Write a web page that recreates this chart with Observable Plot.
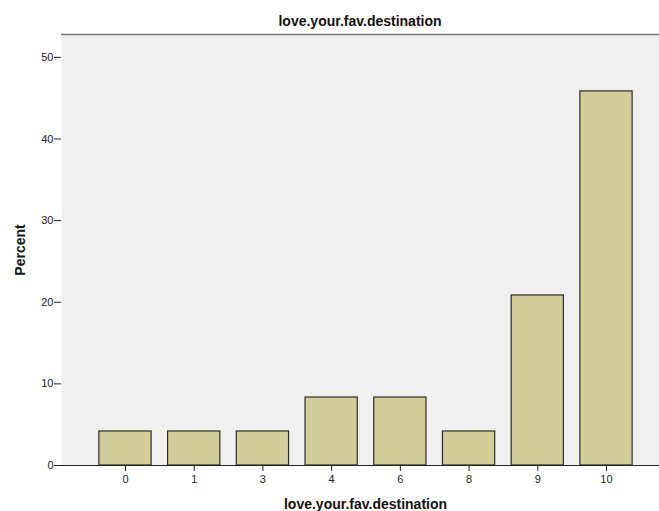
<!DOCTYPE html>
<html>
<head>
<meta charset="utf-8">
<script src="https://cdn.jsdelivr.net/npm/d3@7"></script>
<script src="https://cdn.jsdelivr.net/npm/@observablehq/plot@0.6"></script>
<style>
  html, body { margin: 0; padding: 0; background: #fff; }
  body { width: 659px; height: 511px; overflow: hidden; font-family: "Liberation Sans", Arial, sans-serif; }
  #title { height: 33px; line-height: 43px; text-align: center; font-weight: bold; font-size: 14px; color: #111; padding-left: 61px; box-sizing: border-box; width: 659px; }
  svg { display: block; }
  g[aria-label="x-axis label"] text, g[aria-label="y-axis label"] text { font-weight: bold; font-size: 14px; fill: #111; }
</style>
</head>
<body>
<div id="title">love.your.fav.destination</div>
<div id="chart"></div>
<script>
const categories = ["0", "1", "3", "4", "6", "8", "9", "10"];
const percents = [4.17, 4.17, 4.17, 8.33, 8.33, 4.17, 20.83, 45.83];
const yTicks = [0, 10, 20, 30, 40, 50];

const data = categories.map((c, i) => ({category: c, percent: percents[i]}));
const yMax = 52.8;

const chart = Plot.plot({
  width: 659,
  height: 478,
  marginLeft: 61,
  marginRight: 0,
  marginTop: 1,
  marginBottom: 46,
  style: {fontFamily: "Liberation Sans, Arial, sans-serif", fontSize: "11px", color: "#222", background: "transparent"},
  x: {domain: categories, range: [90.65, 640.35], paddingInner: 0.24, paddingOuter: 0.12, round: false},
  y: {domain: [0, yMax]},
  marks: [
    Plot.frame({fill: "#f0f0f0", stroke: null}),
    Plot.ruleY([yMax], {stroke: "#777", strokeWidth: 1.5}),
    Plot.barY(data, {x: "category", y: "percent", fill: "#d3ce97", stroke: "#2b2b2b", strokeWidth: 1.2}),
    Plot.axisY({ticks: yTicks, tickSize: 7, tickPadding: 1, label: "Percent", labelAnchor: "center", labelArrow: "none", labelOffset: 46}),
    Plot.axisX({tickSize: 6, tickPadding: 4, label: "love.your.fav.destination", labelAnchor: "center", labelArrow: "none", labelOffset: 43}),
    Plot.ruleX([0], {frameAnchor: "left", stroke: "#222"}),
    Plot.ruleY([0], {stroke: "#222"})
  ]
});
d3.select(chart).select('g[aria-label="x-axis label"] text').attr("dx", 5);
document.getElementById("chart").appendChild(chart);
</script>
</body>
</html>
